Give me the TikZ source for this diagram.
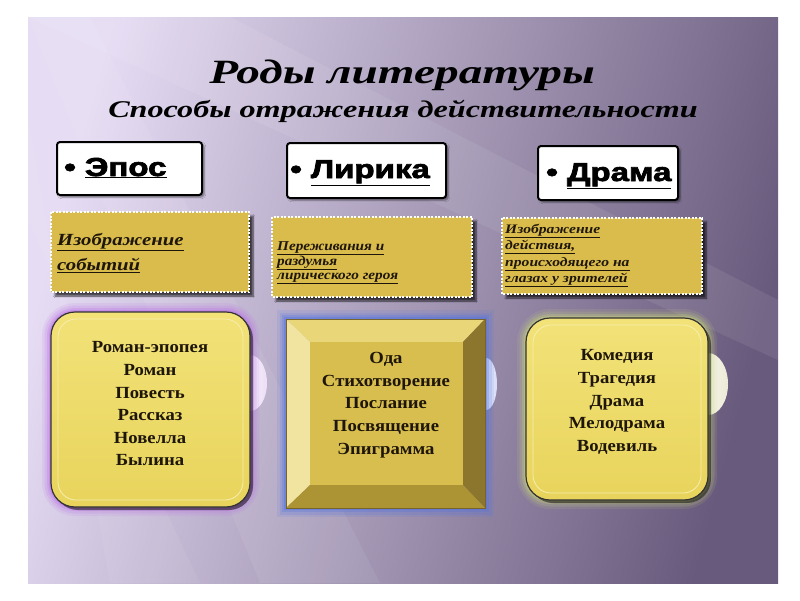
\documentclass[tikz,border=0pt]{standalone}
\usepackage{fontspec}
\setmainfont{Liberation Serif}
\newfontfamily\hdfont{Liberation Sans}[BoldFeatures={FakeBold=2.5}]
\usetikzlibrary{shadows.blur,calc}
\definecolor{bgL}{RGB}{230,220,244}
\definecolor{bgM}{RGB}{158,143,180}
\definecolor{bgR}{RGB}{104,90,124}
\definecolor{gold}{RGB}{218,188,76}
\definecolor{yel}{RGB}{232,212,92}
\definecolor{yelL}{RGB}{242,226,120}
\definecolor{txt}{RGB}{30,22,10}
\definecolor{glowA}{RGB}{186,110,230}
\definecolor{glowB}{RGB}{80,115,225}
\definecolor{glowC}{RGB}{200,212,125}
\definecolor{bumpA}{RGB}{236,222,246}
\definecolor{bumpB}{RGB}{214,220,246}
\definecolor{bumpC}{RGB}{236,234,214}
\definecolor{bevT}{RGB}{232,214,120}
\definecolor{bevL}{RGB}{240,228,160}
\definecolor{bevR}{RGB}{140,118,46}
\definecolor{bevB}{RGB}{172,148,52}
\definecolor{bevC}{RGB}{216,190,78}
\definecolor{bevE}{RGB}{120,100,40}
\tikzset{
  hdbox/.style={draw=black, line width=2pt, fill=white, rounded corners=3pt,
    blur shadow={shadow xshift=2pt, shadow yshift=-2pt, shadow opacity=50, shadow blur steps=4}},
  dotbox/.style={draw=white, line width=1.6pt, dash pattern=on 2pt off 1.5pt, fill=gold,
    blur shadow={shadow xshift=4pt, shadow yshift=-4pt, shadow opacity=70, shadow blur steps=6}},
  hdtext/.style={anchor=base west, inner sep=0pt, xscale=1.27, transform shape,
    font=\hdfont\bfseries\fontsize{26}{26}\selectfont},
  desc/.style={anchor=north west, inner sep=0pt, align=left, text=txt, transform shape},
  listtext/.style={inner sep=0pt, align=center, text=txt, xscale=1.1, transform shape,
    font=\bfseries\fontsize{17}{22.6}\selectfont},
  ttl/.style={anchor=base, inner sep=0pt, xscale=1.39, transform shape, font=\bfseries\itshape\fontsize{34}{34}\selectfont},
  subttl/.style={anchor=base, inner sep=0pt, xscale=1.34, transform shape, font=\bfseries\itshape\fontsize{24}{24}\selectfont}
}
\begin{document}
\begin{tikzpicture}[x=1pt,y=-1pt]
\useasboundingbox (0,0) rectangle (800,600);
\fill[white] (0,0) rectangle (800,600);
% background
\shade[left color=bgL, middle color=bgM, right color=bgR, shading angle=75] (28,17) rectangle (778,583);
\fill[white, opacity=0.08] (28,17) -- (230,17) -- (778,300) -- (778,360) -- cycle;
\fill[white, opacity=0.07] (28,17) -- (90,17) -- (380,583) -- (260,583) -- cycle;
\fill[white, opacity=0.06] (28,120) -- (28,220) -- (200,583) -- (110,583) -- cycle;

% title
\node[ttl] (title) at (402,83) {Роды литературы};
\node[subttl] (subtitle) at (403,117) {Способы отражения действительности};

% header boxes
\draw[hdbox] (57,142) rectangle (202,195);
\draw[hdbox] (287,143) rectangle (446,198);
\draw[hdbox] (538,146) rectangle (678,200);
\node[hdtext] (epos) at (64,176) {•~\underline{Эпос}};
\node[hdtext] (lyr) at (290,178) {•~\underline{Лирика}};
\node[hdtext] (drama) at (546,181) {•~\underline{Драма}};

% dotted description boxes
\draw[dotbox] (51,212) rectangle (249,292);
\draw[dotbox] (272,217) rectangle (472,297);
\draw[dotbox] (502,218) rectangle (702,294);
\node[desc, xscale=1.22, font=\bfseries\itshape\fontsize{17}{25}\selectfont] (d1) at (57,233)
  {\underline{Изображение}\\ \underline{событий}};
\node[desc, xscale=1.13, font=\bfseries\itshape\fontsize{13.5}{14}\selectfont] (d2) at (277,241)
  {\underline{Переживания и}\\ \underline{раздумья}\\ \underline{лирического героя}};
\node[desc, xscale=1.2, font=\bfseries\itshape\fontsize{13}{16.3}\selectfont] (d3) at (505,224)
  {\underline{Изображение}\\ \underline{действия,}\\ \underline{происходящего на}\\ \underline{глазах у зрителей}};

% side bumps
\shade[left color=white, right color=bumpA] (250,383) ellipse (17 and 28);
\shade[left color=white, right color=bumpB] (486,384) ellipse (11 and 26);
\shade[left color=white, right color=bumpC] (708,384) ellipse (20 and 31);

% glows
\foreach \w/\o in {18/0.12,13/0.17,8/0.25,4/0.4}{
  \draw[glowA, line width=\w pt, opacity=\o, rounded corners=24] (51,312) rectangle (250,507);
  \draw[glowB, line width=\w pt, opacity=\o] (286,319) rectangle (485,508);
  \draw[glowC, line width=\w pt, opacity=\o, rounded corners=24] (526,318) rectangle (708,500);
}

% box 1
\fill[black, opacity=0.5, rounded corners=24] (54,315) rectangle (253,510);
\shade[top color=yelL, bottom color=yel, draw=black!80, line width=1.2pt, rounded corners=24] (51,312) rectangle (250,507);
\draw[yelL!60!white, line width=0.8pt, rounded corners=18] (58,319) rectangle (243,500);
\node[listtext] (l1) at (150,404) {Роман-эпопея\\Роман\\Повесть\\Рассказ\\Новелла\\Былина};

% box 2 (bevel)
\fill[bevT] (286,319) -- (485,319) -- (463,342) -- (310,342) -- cycle;
\fill[bevL] (286,319) -- (310,342) -- (310,485) -- (286,508) -- cycle;
\fill[bevR] (485,319) -- (485,508) -- (463,485) -- (463,342) -- cycle;
\fill[bevB] (286,508) -- (485,508) -- (463,485) -- (310,485) -- cycle;
\fill[bevC] (310,342) rectangle (463,485);
\draw[bevE, line width=0.6pt] (286,319) rectangle (485,508);
\node[listtext] (l2) at (386,405) {Ода\\Стихотворение\\Послание\\Посвящение\\Эпиграмма};

% box 3
\fill[black, opacity=0.5, rounded corners=24] (529,321) rectangle (711,503);
\shade[top color=yelL, bottom color=yel, draw=black!80, line width=1.2pt, rounded corners=24] (526,318) rectangle (708,500);
\draw[yelL!60!white, line width=0.8pt, rounded corners=18] (533,325) rectangle (701,493);
\node[listtext] (l3) at (617,402) {Комедия\\Трагедия\\Драма\\Мелодрама\\Водевиль};
\end{tikzpicture}
\end{document}
